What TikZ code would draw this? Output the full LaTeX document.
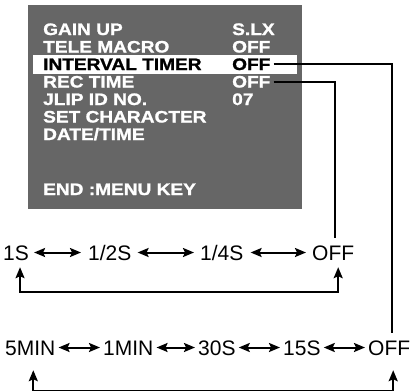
\documentclass[tikz,border=0pt]{standalone}
\usepackage{fontspec}
\setmainfont{Liberation Sans}
\newfontfamily\menufont[FakeStretch=1.15,FakeBold=1.2]{Liberation Sans Bold}
\usetikzlibrary{arrows.meta}
\definecolor{menubg}{RGB}{102,102,102}
\tikzset{
  menu/.style={anchor=base west, inner sep=0pt, text=white, text height=11.7pt,
               text depth=0pt, font=\menufont\fontsize{16.6}{18}\selectfont},
  opt/.style={anchor=base west, inner sep=0pt, text height=15pt, text depth=0pt,
              font=\fontsize{21}{24}\selectfont},
  swap/.style={{Stealth[length=11pt,width=9pt,inset=2pt]}-{Stealth[length=11pt,width=9pt,inset=2pt]},
               line width=2pt},
  link/.style={line width=2pt}
}
\begin{document}
\begin{tikzpicture}[x=1pt,y=-1pt]
    \useasboundingbox (0,0) rectangle (410,391);
    \fill[menubg] (28,5) rectangle (302,209);
    \fill[white] (33,55) rectangle (297,74);
    % menu lines
    \node[menu] (gain) at (43,35) {GAIN UP};
    \node[menu] (tele) at (43,52.5) {TELE MACRO};
    \node[menu, text=black] (intv) at (43,70) {INTERVAL TIMER};
    \node[menu] (rec) at (43,87.5) {REC TIME};
    \node[menu] (jlip) at (43,105) {JLIP ID NO.};
    \node[menu] (char) at (43,122.5) {SET CHARACTER};
    \node[menu] (date) at (43,140) {DATE/TIME};
    \node[menu] (end) at (43,195) {END :MENU KEY};
    \node[menu] (gainv) at (232,35) {S.LX};
    \node[menu] (telev) at (232,52.5) {OFF};
    \node[menu, text=black] (intvv) at (232,70) {OFF};
    \node[menu] (recv) at (232,87.5) {OFF};
    \node[menu] (jlipv) at (232,105) {07};
    % rec time steps
    \node[opt] (s1) at (3,260) {1S};
    \node[opt] (s2) at (88,260) {1/2S};
    \node[opt] (s4) at (200,260) {1/4S};
    \node[opt] (soff) at (312,260) {OFF};
    \draw[swap, shorten <=5pt, shorten >=7pt] (s1) -- (s2);
    \draw[swap, shorten <=6pt, shorten >=6pt] (s2) -- (s4);
    \draw[swap, shorten <=7pt, shorten >=6pt] (s4) -- (soff);
    \draw[swap] ([xshift=4pt,yshift=-7pt]s1.south) -- ++(0,25) -| ([xshift=5pt,yshift=-7pt]soff.south);
    % interval timer steps
    \node[opt] (m5) at (5,355) {5MIN};
    \node[opt] (m1) at (103,355) {1MIN};
    \node[opt] (s30) at (198,355) {30S};
    \node[opt] (s15) at (283,355) {15S};
    \node[opt] (moff) at (368,355) {OFF};
    \draw[swap, shorten <=3pt, shorten >=3pt] (m5) -- (m1);
    \draw[swap, shorten <=3pt, shorten >=3pt] (m1) -- (s30);
    \draw[swap, shorten <=3pt, shorten >=3pt] (s30) -- (s15);
    \draw[swap, shorten <=3pt, shorten >=3pt] (s15) -- (moff);
    \draw[swap] ([xshift=3pt,yshift=-15pt]m5.south) -- ++(0,21) -| ([xshift=4pt,yshift=-15pt]moff.south);
    % links from the menu
    \draw[link] ([xshift=3pt]intvv.east) -| ([xshift=3pt,yshift=7pt]moff.north);
    \draw[link] ([xshift=3pt]recv.east) -| ([xshift=2pt,yshift=7pt]soff.north);
\end{tikzpicture}
\end{document}
